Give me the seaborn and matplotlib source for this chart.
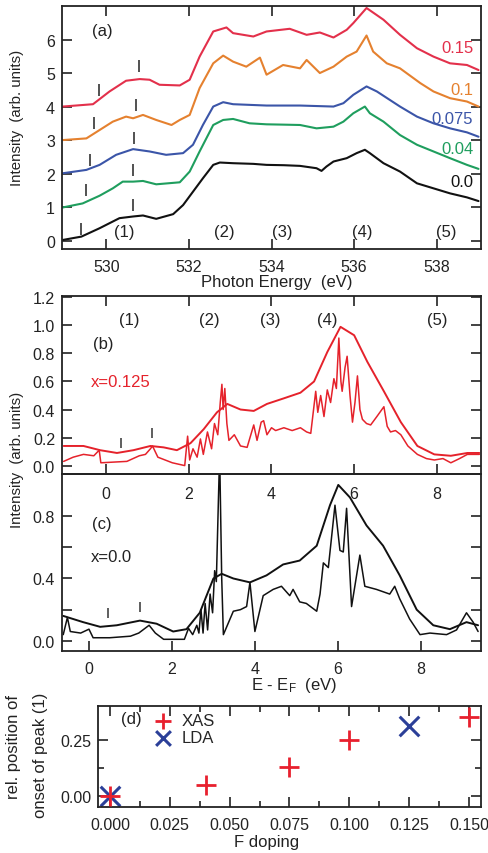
import matplotlib
matplotlib.use("Agg")
import matplotlib.pyplot as plt
import seaborn as sns
import numpy as np
import pandas as pd

# ---------------- data: panel (a) XAS spectra ----------------
a_x_000 = [528.95, 529.4, 529.84, 530.32, 530.65, 530.89, 531.21, 531.62, 531.86, 532.1, 532.34, 532.59, 532.75,
           533.07, 533.56, 533.88, 534.3, 534.69, 535.09, 535.21, 535.33, 535.5, 535.82, 536.06, 536.26, 536.38,
           536.71, 537.11, 537.52, 537.92, 538.32, 538.73, 539.01]
a_y_000 = [0.02, 0.12, 0.37, 0.67, 0.72, 0.75, 0.65, 0.79, 1.06, 1.46, 1.86, 2.26, 2.33,
           2.31, 2.29, 2.26, 2.25, 2.23, 2.16, 2.08, 2.21, 2.36, 2.46, 2.61, 2.71, 2.61,
           2.31, 2.06, 1.71, 1.56, 1.41, 1.29, 1.18]

a_x_004 = [528.95, 529.43, 529.84, 530.16, 530.4, 530.65, 530.89, 531.21, 531.78, 532.02, 532.26, 532.59, 532.83,
           533.07, 533.47, 533.88, 534.3, 534.69, 535.09, 535.5, 535.74, 535.98, 536.26, 536.38, 536.71, 537.11,
           537.52, 537.92, 538.32, 538.73, 539.01]
a_y_004 = [0.99, 1.11, 1.34, 1.56, 1.76, 1.76, 1.78, 1.68, 1.74, 2.06, 2.66, 3.45, 3.6,
           3.63, 3.5, 3.47, 3.46, 3.45, 3.35, 3.4, 3.55, 3.8, 4.0, 3.8, 3.55, 3.15,
           2.86, 2.66, 2.46, 2.26, 2.14]

a_x_0075 = [528.95, 529.52, 529.84, 530.24, 530.65, 531.05, 531.45, 531.86, 532.1, 532.34, 532.59, 532.83, 533.07,
            533.88, 534.69, 535.5, 535.74, 535.98, 536.3, 536.55, 537.11, 537.52, 537.92, 538.32, 538.73, 539.01]
a_y_0075 = [2.01, 2.11, 2.26, 2.56, 2.73, 2.66, 2.56, 2.61, 2.86, 3.45, 4.0, 4.13, 4.07,
            4.03, 4.03, 4.0, 4.1, 4.35, 4.6, 4.45, 4.0, 3.7, 3.5, 3.35, 3.23, 3.1]

a_x_010 = [528.95, 529.52, 529.84, 530.16, 530.48, 530.65, 530.89, 531.21, 531.58, 531.78, 532.02, 532.26, 532.59,
           532.83, 533.07, 533.39, 533.72, 533.88, 534.28, 534.69, 534.85, 535.17, 535.5, 535.82, 536.06, 536.3,
           536.46, 536.79, 537.11, 537.6, 537.92, 538.32, 538.73, 539.01]
a_y_010 = [3.0, 3.05, 3.3, 3.55, 3.7, 3.65, 3.75, 3.6, 3.45, 3.6, 3.75, 4.55, 5.29,
           5.52, 5.34, 5.19, 5.46, 4.95, 5.24, 5.14, 5.39, 5.0, 5.19, 5.49, 5.64, 6.12,
           5.64, 5.29, 5.14, 4.7, 4.45, 4.25, 4.15, 4.0]

a_x_015 = [528.95, 529.68, 530.08, 530.48, 530.81, 531.05, 531.29, 531.78, 532.02, 532.26, 532.59, 532.91, 533.07,
           533.56, 533.88, 534.44, 534.85, 535.17, 535.5, 535.82, 535.98, 536.3, 536.71, 537.11, 537.52, 537.92,
           538.32, 538.73, 539.01]
a_y_015 = [4.0, 4.07, 4.45, 4.77, 4.82, 4.8, 4.65, 4.63, 4.8, 5.49, 6.24, 6.36, 6.19,
           6.09, 6.24, 6.32, 6.14, 6.21, 6.06, 6.29, 6.49, 6.94, 6.59, 6.14, 5.74, 5.49,
           5.29, 5.24, 5.09]

a_labels = ["0.0", "0.04", "0.075", "0.1", "0.15"]
a_colors = ["#111111", "#1f9e5e", "#3b55a8", "#e5812f", "#e3304b"]
a_label_y = [1.75, 2.75, 3.65, 4.5, 5.75]

# onset markers "|" in (a)
a_mark_x = [529.39, 530.64, 529.51, 530.64, 529.6, 530.68, 529.7, 530.73, 529.82, 530.8]
a_mark_y = [0.35, 1.07, 1.5, 2.1, 2.4, 3.05, 3.5, 4.05, 4.5, 5.2]

peak_names = ["(1)", "(2)", "(3)", "(4)", "(5)"]
a_peak_x = [530.43, 532.86, 534.27, 536.2, 538.24]
b_peak_x = [0.56, 2.5, 3.97, 5.35, 8.0]

# ---------------- data: panel (b) LDA x=0.125 ----------------
b_smooth_x = [-1.03, -0.55, -0.15, 0.26, 0.66, 1.07, 1.39, 1.71, 2.04, 2.36, 2.68, 2.93, 3.25, 3.57, 3.89,
              4.3, 4.7, 5.03, 5.35, 5.67, 6.0, 6.32, 6.72, 7.13, 7.53, 7.94, 8.34, 8.74, 9.03]
b_smooth_y = [0.14, 0.14, 0.11, 0.09, 0.11, 0.14, 0.13, 0.11, 0.16, 0.26, 0.38, 0.44, 0.40, 0.39, 0.44,
              0.48, 0.52, 0.60, 0.81, 0.99, 0.93, 0.74, 0.53, 0.31, 0.14, 0.08, 0.07, 0.09, 0.09]

b_raw_x = [-1.03, -0.8, -0.55, -0.3, -0.17, -0.13, 0.5, 0.65, 0.8, 0.95,
           1.07, 1.12, 1.25, 1.6, 1.9, 1.97, 2.02, 2.1, 2.2, 2.28,
           2.35, 2.45, 2.55, 2.62, 2.7, 2.76, 2.8, 2.83, 2.87, 2.92,
           2.97, 3.1, 3.25, 3.41, 3.5, 3.57, 3.65, 3.75, 3.81, 3.89,
           4.0, 4.1, 4.3, 4.5, 4.7, 4.85, 4.95, 5.07, 5.12, 5.19,
           5.27, 5.35, 5.43, 5.51, 5.57, 5.63, 5.68, 5.71, 5.78, 5.83,
           5.9, 5.96, 6.02, 6.08, 6.14, 6.2, 6.3, 6.4, 6.55, 6.72,
           6.8, 6.88, 7.0, 7.13, 7.3, 7.53, 7.75, 7.94, 8.15, 8.34,
           8.55, 8.74, 9.03]
b_raw_y = [0.03, 0.06, 0.08, 0.07, 0.11, 0.02, 0.03, 0.05, 0.07, 0.08,
           0.12, 0.14, 0.06, 0.02, 0.00, 0.21, 0.04, 0.12, 0.06, 0.19,
           0.08, 0.24, 0.12, 0.30, 0.22, 0.45, 0.58, 0.40, 0.55, 0.30,
           0.18, 0.22, 0.14, 0.13, 0.22, 0.29, 0.18, 0.31, 0.32, 0.22,
           0.27, 0.25, 0.27, 0.25, 0.27, 0.24, 0.23, 0.53, 0.38, 0.50,
           0.35, 0.54, 0.45, 0.62, 0.55, 0.91, 0.60, 0.53, 0.70, 0.78,
           0.50, 0.31, 0.45, 0.64, 0.40, 0.33, 0.30, 0.29, 0.35, 0.42,
           0.28, 0.24, 0.25, 0.22, 0.14, 0.08, 0.05, 0.04, 0.05, 0.02,
           0.05, 0.08, 0.08]
b_mark_x = [0.36, 1.1]
b_mark_y = [0.16, 0.23]

# ---------------- data: panel (c) LDA x=0.0 ----------------
c_smooth_x = [-0.62, -0.14, 0.27, 0.67, 1.23, 1.63, 2.03, 2.35, 2.67, 3.0, 3.2, 3.48, 3.88, 4.28, 4.68,
              5.08, 5.49, 5.81, 6.01, 6.29, 6.69, 7.09, 7.49, 7.9, 8.3, 8.7, 9.1, 9.38]
c_smooth_y = [0.16, 0.12, 0.09, 0.10, 0.13, 0.11, 0.06, 0.075, 0.18, 0.40, 0.43, 0.40, 0.375, 0.42, 0.49,
              0.515, 0.61, 0.87, 1.0, 0.92, 0.74, 0.61, 0.42, 0.20, 0.10, 0.075, 0.12, 0.10]

c_raw_x = [-0.62, -0.52, -0.45, -0.2, 0.0, 0.1, 0.5, 1.0, 1.2, 1.45,
           1.6, 1.8, 2.3, 2.4, 2.5, 2.6, 2.65, 2.7, 2.75, 2.8,
           2.86, 2.92, 2.98, 3.03, 3.07, 3.12, 3.15, 3.2, 3.24, 3.48,
           3.65, 3.8, 3.88, 4.0, 4.2, 4.44, 4.64, 4.84, 4.92, 5.08,
           5.24, 5.49, 5.57, 5.65, 5.77, 5.93, 6.05, 6.13, 6.21, 6.33,
           6.53, 6.65, 6.93, 7.25, 7.37, 7.49, 7.73, 7.98, 8.22, 8.62,
           8.86, 9.1, 9.26, 9.38]
c_raw_y = [0.04, 0.15, 0.06, 0.05, 0.075, 0.02, 0.02, 0.03, 0.05, 0.10,
           0.05, 0.01, 0.01, 0.08, 0.04, 0.10, 0.05, 0.20, 0.05, 0.24,
           0.07, 0.30, 0.18, 0.45, 0.38, 0.90, 1.20, 0.40, 0.04, 0.19,
           0.20, 0.22, 0.375, 0.06, 0.29, 0.33, 0.35, 0.29, 0.33, 0.25,
           0.24, 0.19, 0.30, 0.50, 0.47, 0.87, 0.58, 0.57, 0.85, 0.22,
           0.55, 0.35, 0.33, 0.30, 0.35, 0.27, 0.14, 0.04, 0.05, 0.04,
           0.07, 0.18, 0.12, 0.06]
c_mark_x = [0.47, 1.23]
c_mark_y = [0.18, 0.22]

# ---------------- data: panel (d) ----------------
xas_doping = [0.0, 0.04, 0.075, 0.1, 0.15]
xas_shift = [0.0, 0.05, 0.13, 0.25, 0.35]
lda_doping = [0.0, 0.125]
lda_shift = [0.0, 0.31]

# ---------------- figure ----------------
sns.set_style("ticks")
plt.rcParams['font.family'] = ['Liberation Sans', 'DejaVu Sans']
plt.rcParams['font.size'] = 11.5
plt.rcParams['axes.linewidth'] = 1.3
plt.rcParams['mathtext.fontset'] = 'custom'
plt.rcParams['mathtext.rm'] = 'Liberation Sans'
plt.rcParams['mathtext.it'] = 'Liberation Sans'

TXT = '#222222'
FS_TICK = 11.5
FS_ANN = 12
FS_LAB = 12

W, H = 489, 854
fig = plt.figure(figsize=(W / 100, H / 100), dpi=100)


def box(l, t, r, b):
    return [l / W, 1 - b / H, (r - l) / W, (b - t) / H]


ax_a = fig.add_axes(box(62, 7, 481, 250))
ax_b = fig.add_axes(box(62, 297, 481, 475))
ax_c = fig.add_axes(box(62, 475, 481, 652))
ax_d = fig.add_axes(box(98, 707, 481, 808))
ax_c.patch.set_alpha(0)
ax_b.set_zorder(3)
ax_b.patch.set_alpha(0)

tick_kw = dict(direction='in', top=True, right=True, width=1.2, colors=TXT, labelcolor=TXT,
               labelsize=FS_TICK)

# ---- (a)
series_a = [(a_x_000, a_y_000), (a_x_004, a_y_004), (a_x_0075, a_y_0075), (a_x_010, a_y_010), (a_x_015, a_y_015)]
for (xs, ys), col, lab, ly in zip(series_a, a_colors, a_labels, a_label_y):
    df = pd.DataFrame({"E": xs, "I": ys})
    sns.lineplot(data=df, x="E", y="I", ax=ax_a, color=col, lw=1.5, sort=False, estimator=None)
    ax_a.text(538.88, ly, lab, color=col, ha='right', va='center', fontsize=FS_ANN)
sns.scatterplot(x=a_mark_x, y=a_mark_y, ax=ax_a, marker='|', s=80, color='#333333', linewidth=1.2)
for name, px in zip(peak_names, a_peak_x):
    ax_a.text(px, 0.28, name, ha='center', va='center', fontsize=FS_ANN, color=TXT)
ax_a.text(529.66, 6.27, "(a)", fontsize=FS_ANN, ha='left', va='center', color=TXT)
ax_a.set_xlim(528.93, 539.07)
ax_a.set_ylim(-0.25, 7.0)
ax_a.set_xticks([530, 532, 534, 536, 538])
ax_a.set_yticks([0, 1, 2, 3, 4, 5, 6])
ax_a.tick_params(axis='both', length=7, pad=5, **tick_kw)
ax_a.tick_params(axis='x', pad=7)
ax_a.set_xlabel("")
ax_a.set_ylabel("")

# ---- (b)
red = "#e5222b"
sns.lineplot(x=b_smooth_x, y=b_smooth_y, ax=ax_b, color=red, lw=1.4, sort=False, estimator=None)
sns.lineplot(x=b_raw_x, y=b_raw_y, ax=ax_b, color=red, lw=1.1, sort=False, estimator=None)
sns.scatterplot(x=b_mark_x, y=b_mark_y, ax=ax_b, marker='|', s=60, color='#333333', linewidth=1.1)
for name, px in zip(peak_names, b_peak_x):
    ax_b.text(px, 1.045, name, ha='center', va='center', fontsize=FS_ANN, color=TXT)
ax_b.text(-0.32, 0.87, "(b)", fontsize=FS_ANN, color=TXT, va='center')
ax_b.text(-0.37, 0.6, "x=0.125", fontsize=FS_ANN, color=red, va='center')
ax_b.set_xlim(-1.07, 9.07)
ax_b.set_ylim(-0.06, 1.21)
ax_b.set_xticks([0, 2, 4, 6, 8])
ax_b.set_yticks([0.0, 0.2, 0.4, 0.6, 0.8, 1.0, 1.2])
ax_b.set_yticklabels(["0.0", "0.2", "0.4", "0.6", "0.8", "1.0", "1.2"])
ax_b.tick_params(axis='both', length=7, pad=5, **tick_kw)
ax_b.tick_params(axis='x', pad=9)
ax_b.set_xlabel("")
ax_b.set_ylabel("")

# ---- (c)
sns.lineplot(x=c_smooth_x, y=c_smooth_y, ax=ax_c, color='#111111', lw=1.4, sort=False, estimator=None)
sns.lineplot(x=c_raw_x, y=c_raw_y, ax=ax_c, color='#111111', lw=1.1, sort=False, estimator=None)
sns.scatterplot(x=c_mark_x, y=c_mark_y, ax=ax_c, marker='|', s=60, color='#333333', linewidth=1.1)
ax_c.text(0.07, 0.75, "(c)", fontsize=FS_ANN, color=TXT, va='center')
ax_c.text(0.05, 0.54, "x=0.0", fontsize=FS_ANN, color=TXT, va='center')
ax_c.set_xlim(-0.65, 9.45)
ax_c.set_ylim(-0.065, 1.07)
ax_c.set_xticks([0, 2, 4, 6, 8])
ax_c.set_yticks([0.0, 0.2, 0.4, 0.6, 0.8])
ax_c.set_yticklabels(["0.0", "", "0.4", "", "0.8"])
ax_c.tick_params(axis='both', length=7, pad=5, direction='in', right=True, top=False,
                 width=1.2, colors=TXT, labelcolor=TXT, labelsize=FS_TICK)
ax_c.tick_params(axis='x', pad=7)
ax_c.set_xlabel("")
ax_c.set_ylabel("")

# ---- (d)
df_xas = pd.DataFrame({"F doping": xas_doping, "shift": xas_shift, "method": "XAS"})
df_lda = pd.DataFrame({"F doping": lda_doping, "shift": lda_shift, "method": "LDA"})
sns.scatterplot(data=df_xas, x="F doping", y="shift", ax=ax_d, marker='+', s=220, color="#e8202e",
                linewidth=2.0, label="XAS", zorder=3)
sns.scatterplot(data=df_lda, x="F doping", y="shift", ax=ax_d, marker='x', s=200, color="#2b3f98",
                linewidth=2.2, label="LDA", zorder=2)
ax_d.set_xlim(-0.005, 0.155)
ax_d.set_ylim(-0.05, 0.40)
ax_d.set_xticks([0.0, 0.025, 0.05, 0.075, 0.1, 0.125, 0.15])
ax_d.set_xticklabels(["0.000", "0.025", "0.050", "0.075", "0.100", "0.125", "0.150"])
ax_d.set_xticks(np.arange(0.0125, 0.15, 0.025), minor=True)
ax_d.set_yticks([0.0, 0.25])
ax_d.set_yticklabels(["0.00", "0.25"])
ax_d.set_yticks([0.125], minor=True)
ax_d.tick_params(axis='both', which='major', length=7, pad=5, **tick_kw)
ax_d.tick_params(axis='both', which='minor', length=4, direction='in', top=True, right=True,
                 width=1.2, colors=TXT)
ax_d.tick_params(axis='x', pad=7)
ax_d.set_xlabel("")
ax_d.set_ylabel("")
leg = ax_d.legend(loc='upper left', bbox_to_anchor=(0.1, 1.03), frameon=False, fontsize=FS_ANN,
                  handletextpad=0.1, labelspacing=0.15, borderaxespad=0.2, markerscale=0.75)
ax_d.text(0.0045, 0.345, "(d)", fontsize=FS_ANN, color=TXT, va='center')

for ax in (ax_a, ax_b, ax_c, ax_d):
    for s in ax.spines.values():
        s.set_color(TXT)

# axis titles as figure text
fig.text(17 / W, 1 - 118 / H, "Intensity  (arb. units)", rotation=90, ha='center', va='center', fontsize=10.8,
         color=TXT)
fig.text(277 / W, 1 - 283 / H, "Photon Energy  (eV)", ha='center', va='center', fontsize=FS_LAB, color=TXT)
fig.text(17 / W, 1 - 460 / H, "Intensity  (arb. units)", rotation=90, ha='center', va='center', fontsize=10.8,
         color=TXT)
fig.text(294 / W, 1 - 686 / H, "E - E$_\\mathrm{F}$  (eV)", ha='center', va='center', fontsize=FS_LAB,
         color=TXT)
fig.text(14 / W, 1 - 747 / H, "rel. position of", rotation=90, ha='center', va='center', fontsize=FS_LAB,
         color=TXT)
fig.text(40 / W, 1 - 755 / H, "onset of peak (1)", rotation=90, ha='center', va='center', fontsize=FS_LAB,
         color=TXT)
fig.text(267 / W, 1 - 843 / H, "F doping", ha='center', va='center', fontsize=FS_LAB, color=TXT)

fig.savefig("out.png", dpi=100)
